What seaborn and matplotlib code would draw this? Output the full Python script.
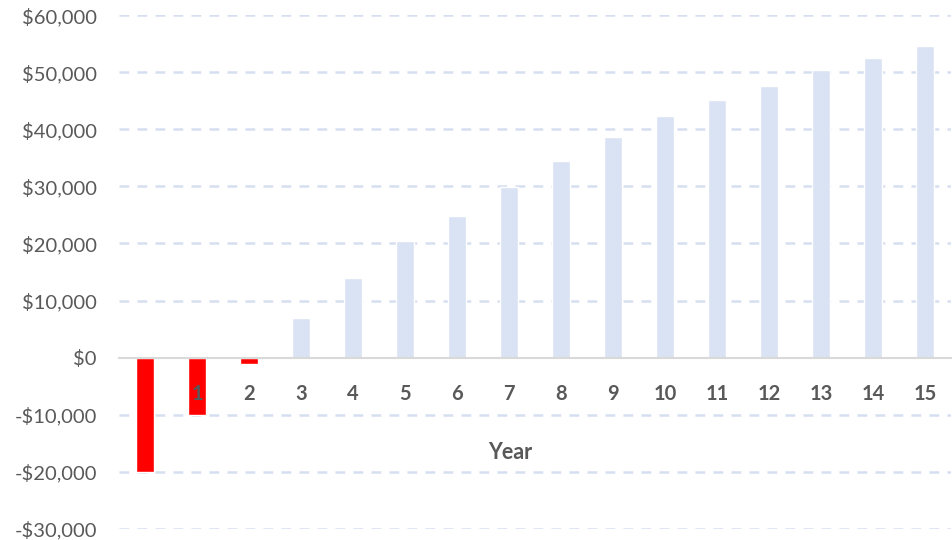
import matplotlib
matplotlib.use("Agg")
import matplotlib.pyplot as plt
import seaborn as sns
import pandas as pd
from matplotlib.ticker import FuncFormatter

# Cash flow by year
years = [str(y) for y in range(16)]
tick_labels = [""] + [str(y) for y in range(1, 16)]
cash_flow = [-20000, -10000, -1200, 7000, 13900, 20400, 24900, 29900,
             34500, 38700, 42300, 45100, 47600, 50400, 52500, 54600]
y_ticks = list(range(-30000, 60001, 10000))

NEG_COLOR = "#FF0000"
POS_COLOR = "#DAE3F3"
GRID_COLOR = "#D6DFF0"
TEXT_COLOR = "#595959"

sns.set_theme(style="white")
plt.rcParams["font.family"] = ["Lato", "DejaVu Sans"]

df = pd.DataFrame({"Year": years, "Value": cash_flow})
colors = {y: (NEG_COLOR if v < 0 else POS_COLOR) for y, v in zip(years, cash_flow)}

fig = plt.figure(figsize=(9.52, 5.40), dpi=100)
ax = fig.add_axes([119 / 952, 11.3 / 540, 832 / 952, 513.4 / 540])

# dashed horizontal gridlines behind the bars
for t in y_ticks:
    if t != 0:
        ax.axhline(t, color=GRID_COLOR, linewidth=1.8,
                   linestyle=(0, (3.9, 3.3)), zorder=0)

sns.barplot(data=df, x="Year", y="Value", hue="Year", palette=colors,
            order=years, legend=False, width=0.33, saturation=1, ax=ax)

ax.set_ylim(-30000, 60000)
ax.set_xlim(-0.5, 15.5)
ax.set_yticks(y_ticks)


def money(v, _pos):
    v = int(round(v))
    return f"-${abs(v):,}" if v < 0 else f"${v:,}"


ax.yaxis.set_major_formatter(FuncFormatter(money))
ax.grid(False)
ax.set_axisbelow(False)

for s in ["top", "right", "left"]:
    ax.spines[s].set_visible(False)
ax.spines["bottom"].set_position(("data", 0))
ax.spines["bottom"].set_color("#D9D9D9")
ax.spines["bottom"].set_linewidth(1.5)
ax.spines["bottom"].set_zorder(3)

ax.set_xticks(range(len(years)))
ax.set_xticklabels(tick_labels)
ax.tick_params(axis="x", length=0, pad=19, labelsize=14.5, labelcolor=TEXT_COLOR)
for lbl in ax.get_xticklabels():
    lbl.set_fontweight("bold")
ax.tick_params(axis="y", length=0, pad=16, labelsize=14.5, labelcolor=TEXT_COLOR)

ax.set_ylabel("")
ax.set_xlabel("Year", fontsize=15.5, fontweight="bold", color=TEXT_COLOR)
ax.xaxis.set_label_coords(0.47, 0.1475)
ax.xaxis.label.set_va("center")

fig.savefig("out.png", dpi=100)
